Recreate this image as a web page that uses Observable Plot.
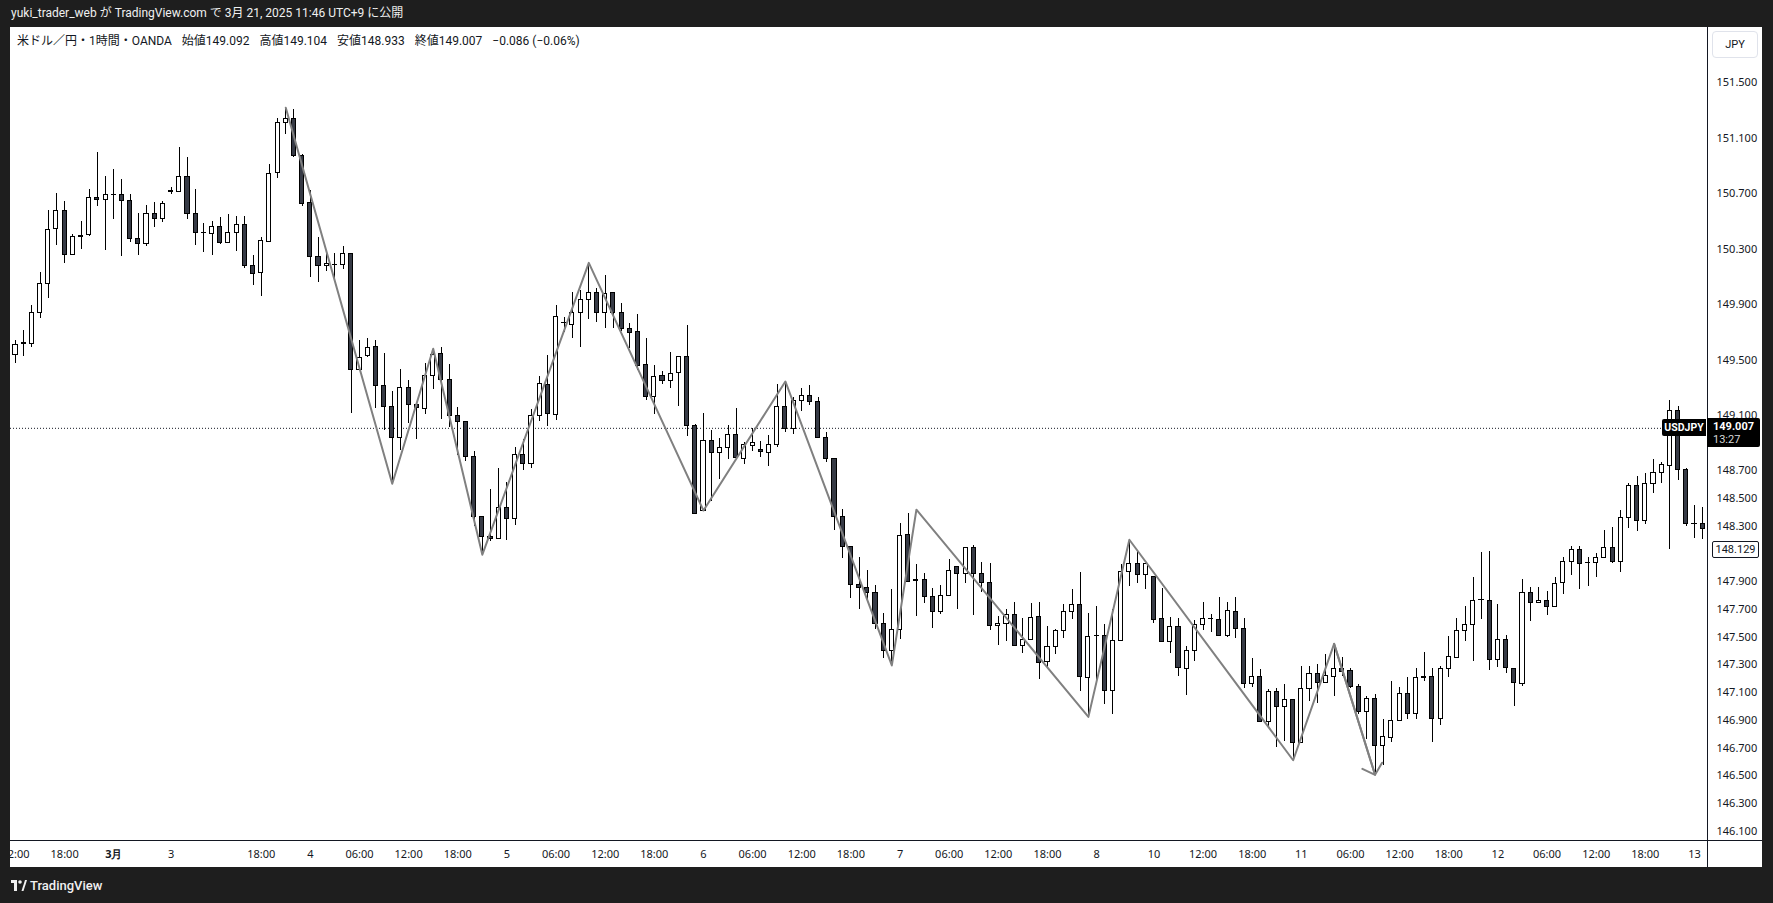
<!DOCTYPE html>
<html><head><meta charset="utf-8">
<script src="https://cdn.jsdelivr.net/npm/d3@7"></script>
<script src="https://cdn.jsdelivr.net/npm/@observablehq/plot@0.6"></script>
<style>
body{margin:0;background:#1e1e1e;width:1773px;height:903px;overflow:hidden;position:relative;font-family:Roboto,"Noto Sans CJK JP",sans-serif}
#hdr{position:absolute;left:11px;top:0;height:27px;line-height:27px;color:#f0f0f0;font-size:12px;white-space:nowrap}
#panel{position:absolute;left:10px;top:27px;width:1752px;height:840px;background:#fff;overflow:hidden}
#panel svg{position:absolute;left:0;top:0}
.ov{position:absolute;box-sizing:border-box;white-space:nowrap}
#legend{left:7px;top:5px;font-size:12px;color:#131722;line-height:18px}
#legend span{margin-right:7px}
#vline{left:1697px;top:0;width:1px;height:840px;background:#131722}
#hline{left:0;top:813px;width:1752px;height:1px;background:#131722}
#jpy{left:1702px;top:4px;width:46px;height:27px;border:1px solid #e0e3eb;border-radius:4px;font-size:11px;color:#131722;text-align:center;line-height:25px}
#sym{left:1652px;width:44px;height:17px;background:#000;color:#fff;font-size:10.5px;font-weight:bold;text-align:center;line-height:17px;border-radius:2px 0 0 2px}
#pbox{left:1697px;width:53px;height:29px;background:#000;color:#fff;font-size:11px;padding-left:6px;line-height:13px;padding-top:2px;border-radius:0 2px 2px 0}
#pbox b{display:block}
#pbox i{font-style:normal;color:#d8d8d8}
#hbox{left:1702px;width:47px;height:17px;border:1px solid #131722;border-radius:2px;background:#fff;color:#131722;font-size:11px;line-height:15px;text-align:center}
#foot{position:absolute;left:11px;top:876px;height:18px;color:#f0f0f0;font-size:13px;font-weight:500;display:flex;align-items:center;gap:3px}
</style></head><body>
<div id="hdr">yuki_trader_web が TradingView.com で 3月 21, 2025 11:46 UTC+9 に公開</div>
<div id="panel"></div>
<div id="foot"><svg width="16" height="11" viewBox="0 0 16 11"><path d="M0 0h6v11H3V3H0z" fill="#f0f0f0"/><circle cx="9" cy="2" r="1.8" fill="#f0f0f0"/><path d="M10.5 11L14 0h2l-3.5 11z" fill="#f0f0f0"/></svg><span>TradingView</span></div>
<script>
// ---- data (USD/JPY 1h, OANDA), bar index 0 = Feb 28 12:00 UTC+9 ----
const open = [
149.537,149.615,149.616,149.840,150.049,150.446,150.576,150.258,150.396,150.400,
150.670,150.655,150.691,150.691,150.648,150.374,150.335,150.554,150.518,150.715,
150.713,150.821,150.554,150.417,150.410,150.460,150.343,150.417,150.475,150.177,
150.129,150.350,150.850,151.211,151.240,150.973,150.634,150.244,150.179,150.186,
150.186,150.266,149.429,149.528,149.595,149.313,149.162,148.936,149.299,149.176,
149.147,149.386,149.544,149.357,149.097,149.051,148.801,148.368,148.226,148.205,
148.433,148.354,148.816,148.751,149.097,149.321,149.104,149.766,149.754,149.840,
149.934,149.984,149.840,149.984,149.840,149.725,149.703,149.465,149.234,149.386,
149.350,149.407,149.523,149.025,148.412,148.917,148.830,148.866,148.960,148.787,
148.880,148.852,148.830,148.888,149.162,149.003,149.205,149.241,149.198,148.938,
148.787,148.368,148.152,147.878,147.856,147.820,147.596,147.401,147.553,148.238,
147.909,147.914,147.791,147.683,147.798,148.007,147.957,148.145,147.957,147.892,
147.582,147.596,147.662,147.438,147.481,147.647,147.323,147.431,147.546,147.683,
147.734,147.207,147.510,147.510,147.113,147.474,147.972,148.030,147.950,147.936,
147.633,147.467,147.575,147.272,147.402,147.590,147.633,147.626,147.510,147.683,
147.561,147.164,147.214,146.890,147.106,146.998,147.048,146.738,147.127,147.236,
147.171,147.214,147.272,147.257,147.142,146.962,147.055,146.716,146.774,146.897,
147.091,146.947,147.214,147.214,146.911,147.272,147.351,147.546,147.589,147.768,
147.762,147.337,147.481,147.272,147.164,147.820,147.748,147.762,147.719,147.892,
148.044,148.130,148.037,148.037,148.073,148.145,148.044,148.361,148.592,148.340,
148.607,148.686,148.736,149.133,148.708,148.318,148.318];
const high = [
149.640,149.712,149.893,150.131,150.578,150.701,150.643,150.403,150.499,150.730,
150.997,150.823,150.874,150.799,150.691,150.557,150.612,150.634,150.643,150.747,
151.033,150.961,150.730,150.484,150.499,150.528,150.547,150.533,150.533,150.251,
150.383,150.910,151.240,151.319,151.307,150.980,150.722,150.383,150.270,150.268,
150.321,150.270,149.641,149.653,149.641,149.544,149.272,149.431,149.352,149.186,
149.472,149.580,149.590,149.467,149.157,149.051,148.840,148.368,148.565,148.715,
148.614,148.866,148.924,149.140,149.381,149.532,149.891,149.804,149.987,149.999,
150.201,150.013,150.109,149.984,149.905,149.761,149.826,149.653,149.458,149.414,
149.552,149.523,149.746,149.032,149.111,148.989,148.931,149.025,149.147,148.905,
149.003,148.912,148.953,149.323,149.345,149.227,149.292,149.316,149.227,148.974,
148.787,148.419,148.152,148.072,147.979,147.870,147.668,147.841,148.318,148.390,
148.022,147.957,147.849,147.870,148.058,148.007,148.145,148.159,148.036,148.029,
147.647,147.697,147.748,147.633,147.741,147.748,147.575,147.554,147.734,147.845,
147.965,147.669,147.719,147.590,147.698,148.023,148.203,148.116,148.030,147.936,
147.849,147.640,147.633,147.431,147.618,147.748,147.662,147.784,147.748,147.784,
147.633,147.344,147.265,147.121,147.128,147.156,147.048,147.289,147.289,147.301,
147.373,147.452,147.351,147.272,147.156,147.070,147.084,146.904,147.178,147.135,
147.207,147.272,147.387,147.272,147.286,147.503,147.632,147.719,147.928,148.109,
148.116,147.734,147.510,147.272,147.914,147.856,147.856,147.827,147.928,148.073,
148.157,148.157,148.073,148.102,148.267,148.289,148.412,148.607,148.657,148.679,
148.780,148.758,149.205,149.162,148.715,148.448,148.433];
const low = [
149.472,149.527,149.592,149.801,149.946,150.328,150.198,150.258,150.299,150.393,
150.609,150.290,150.516,150.249,150.350,150.256,150.321,150.458,150.494,150.691,
150.713,150.511,150.328,150.278,150.256,150.335,150.343,150.285,150.162,150.040,
149.960,150.350,150.807,151.124,150.958,150.605,150.097,150.061,150.141,150.076,
150.153,149.111,149.429,149.520,149.152,148.994,148.606,148.847,149.039,148.926,
149.104,149.289,149.073,149.015,148.811,148.770,148.296,148.101,148.188,148.205,
148.198,148.306,148.703,148.715,149.056,149.022,149.061,149.696,149.657,149.592,
149.794,149.768,149.725,149.725,149.703,149.585,149.426,149.210,149.104,149.326,
149.297,149.167,148.945,148.390,148.412,148.477,148.638,148.779,148.794,148.743,
148.837,148.794,148.734,148.871,148.974,148.960,149.126,149.169,148.938,148.758,
148.267,148.065,147.777,147.697,147.762,147.553,147.344,147.298,147.481,147.899,
147.647,147.741,147.560,147.661,147.798,147.697,147.885,147.654,147.820,147.546,
147.437,147.466,147.438,147.380,147.481,147.193,147.279,147.373,147.489,147.626,
147.106,146.919,147.178,147.012,146.940,147.474,147.864,147.885,147.842,147.597,
147.467,147.380,147.214,147.077,147.323,147.546,147.532,147.510,147.496,147.489,
147.128,147.135,146.890,146.839,146.702,146.745,146.615,146.738,147.034,147.019,
147.164,147.070,147.214,147.127,146.940,146.759,146.514,146.572,146.738,146.897,
146.904,146.904,147.178,146.738,146.861,147.207,147.351,147.467,147.322,147.625,
147.257,147.279,147.236,147.002,147.142,147.611,147.741,147.654,147.719,147.806,
147.943,147.842,147.863,147.928,148.066,148.029,147.964,148.282,148.260,148.311,
148.534,148.607,148.130,148.628,148.296,148.210,148.203];
const close = [
149.609,149.620,149.840,150.049,150.439,150.578,150.258,150.388,150.388,150.670,
150.655,150.691,150.690,150.648,150.374,150.335,150.554,150.518,150.626,150.720,
150.821,150.554,150.417,150.415,150.460,150.343,150.417,150.475,150.177,150.121,
150.359,150.845,151.211,151.240,150.973,150.626,150.244,150.179,150.193,150.185,
150.266,149.429,149.515,149.588,149.313,149.162,148.936,149.299,149.176,149.152,
149.386,149.537,149.357,149.097,149.051,148.801,148.368,148.224,148.212,148.433,
148.354,148.816,148.751,149.097,149.328,149.111,149.811,149.765,149.840,149.934,
149.984,149.840,149.977,149.840,149.725,149.696,149.458,149.234,149.378,149.350,
149.400,149.523,149.025,148.390,148.917,148.830,148.866,148.960,148.794,148.888,
148.902,148.837,148.888,149.162,149.003,149.205,149.241,149.198,148.938,148.787,
148.368,148.152,147.878,147.856,147.820,147.596,147.401,147.553,148.231,147.899,
147.908,147.791,147.683,147.798,147.979,147.957,148.145,147.957,147.892,147.582,
147.596,147.661,147.438,147.481,147.640,147.315,147.431,147.546,147.683,147.734,
147.214,147.503,147.511,147.113,147.474,147.972,148.030,147.950,148.030,147.626,
147.467,147.575,147.279,147.402,147.590,147.633,147.634,147.510,147.691,147.561,
147.164,147.214,146.890,147.106,146.998,147.048,146.738,147.127,147.236,147.171,
147.221,147.272,147.250,147.142,146.962,147.055,146.716,146.781,146.897,147.091,
146.947,147.207,147.207,146.911,147.272,147.358,147.546,147.589,147.762,147.770,
147.337,147.481,147.279,147.168,147.820,147.748,147.762,147.719,147.885,148.044,
148.130,148.029,148.036,148.073,148.145,148.044,148.361,148.592,148.340,148.607,
148.686,148.744,149.133,148.708,148.318,148.317,148.282];

// hand-drawn zigzag (bar index, price)
const zzIndex = [33, 46, 51, 57, 70, 84, 94, 107, 110, 131, 136, 156, 161, 166];
const zzPrice = [151.320, 148.607, 149.581, 148.095, 150.201, 148.414, 149.345, 147.296, 148.420, 146.925, 148.203, 146.612, 147.452, 146.507];

// time axis labels (bar index -> label)
const xTickIndex = [0, 6, 12, 19, 30, 36, 42, 48, 54, 60, 66, 72, 78, 84, 90, 96, 102, 108, 114, 120, 126, 132, 139, 145, 151, 157, 163, 169, 175, 181, 187, 193, 199, 205];
const xTickLabel = ["12:00","18:00","3月","3","18:00","4","06:00","12:00","18:00","5","06:00","12:00","18:00","6","06:00","12:00","18:00","7","06:00","12:00","18:00","8","10","12:00","18:00","11","06:00","12:00","18:00","12","06:00","12:00","18:00","13"];
const monthTickIndex = [12];

// price axis labels
const yTicks = [151.5, 151.1, 150.7, 150.3, 149.9, 149.5, 149.1, 148.7, 148.5, 148.3, 147.9, 147.7, 147.5, 147.3, 147.1, 146.9, 146.7, 146.5, 146.3, 146.1];
const lastPrice = 149.007;
const markedPrice = 148.129;

// ---- build ----
const bars = open.map((o, i) => ({i, o, h: high[i], l: low[i], c: close[i]}));
const zz = zzIndex.map((i, k) => ({i, p: zzPrice[k]}));
const lastSeg = [{x1: zzIndex[zzIndex.length - 2], y1: zzPrice[zzPrice.length - 2], x2: zzIndex[zzIndex.length - 1], y2: zzPrice[zzPrice.length - 1]}];
const labelOf = new Map(xTickIndex.map((d, k) => [d, xTickLabel[k]]));

const chart = Plot.plot({
  width: 1752, height: 840,
  marginLeft: 0, marginRight: 55, marginTop: 0, marginBottom: 27,
  style: {background: "transparent", overflow: "hidden"},
  x: {type: "linear", domain: [-0.6105, 206.59], axis: null},
  y: {domain: [146.033, 151.899], axis: null},
  marks: [
    Plot.ruleY([lastPrice], {stroke: "#131722", strokeWidth: 1, strokeDasharray: "1,2"}),
    Plot.ruleX(bars, {x: "i", y1: "l", y2: "h", stroke: "#000", strokeWidth: 1, shapeRendering: "crispEdges"}),
    Plot.rect(bars, {x1: d => d.i - 0.25, x2: d => d.i + 0.25, y1: "o", y2: "c",
      fill: d => d.c >= d.o ? "#ffffff" : "#363a45", stroke: "#000", strokeWidth: 1, shapeRendering: "crispEdges"}),
    Plot.line(zz, {x: "i", y: "p", stroke: "#808080", strokeWidth: 2}),
    Plot.arrow(lastSeg, {x1: "x1", y1: "y1", x2: "x2", y2: "y2", stroke: "#808080", strokeWidth: 2, headAngle: 95, headLength: 10.5}),
    Plot.axisX(xTickIndex.filter(d => !monthTickIndex.includes(d)), {tickSize: 0, tickPadding: 10, tickFormat: d => labelOf.get(d), fontSize: 11, color: "#131722"}),
    Plot.axisX(monthTickIndex, {tickSize: 0, tickPadding: 10, tickFormat: d => labelOf.get(d), fontSize: 11, fontWeight: "bold", color: "#131722"}),
    Plot.axisY(yTicks, {anchor: "right", tickSize: 0, tickPadding: 9, tickFormat: d3.format(".3f"), fontSize: 11, color: "#131722"})
  ]
});
const panel = document.getElementById("panel");
panel.appendChild(chart);

const ys = chart.scale("y");
function ov(id, html, top) {
  const d = document.createElement("div");
  d.className = "ov"; d.id = id; d.innerHTML = html;
  if (top !== undefined) d.style.top = top + "px";
  panel.appendChild(d);
}
ov("legend", '<span>米ドル／円・1時間・OANDA</span> <span>始値149.092</span> <span>高値149.104</span> <span>安値148.933</span> <span>終値149.007</span> <span>−0.086 (−0.06%)</span>');
ov("vline", "");
ov("hline", "");
ov("jpy", "JPY");
const yl = ys.apply(lastPrice);
ov("sym", "USDJPY", yl - 8.5);
ov("pbox", "<b>" + lastPrice.toFixed(3) + "</b><i>13:27</i>", yl - 9.5);
ov("hbox", markedPrice.toFixed(3), ys.apply(markedPrice) - 8.5);
</script>
</body></html>
